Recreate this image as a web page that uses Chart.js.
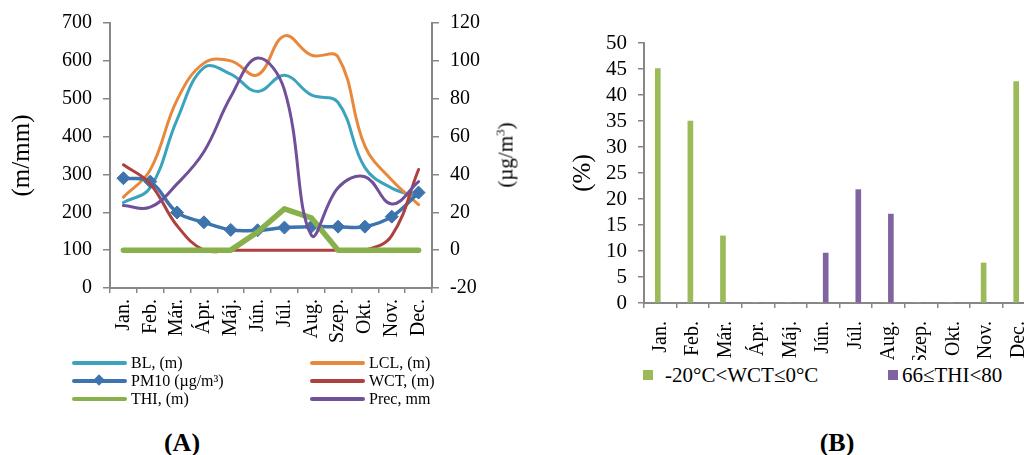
<!DOCTYPE html>
<html>
<head>
<meta charset="utf-8">
<script src="https://cdn.jsdelivr.net/npm/chart.js@4/dist/chart.umd.min.js"></script>
<style>
  html, body { margin: 0; padding: 0; overflow: hidden; background: #fff; }
  body { width: 1024px; height: 455px; position: relative; font-family: 'Liberation Serif', serif; color: #000; }
  .box { position: absolute; }
  .txt { position: absolute; white-space: nowrap; line-height: 1; font-family: 'Liberation Serif', serif; }
  .leg { position: absolute; height: 18px; display: flex; align-items: center; font-size: 16px; white-space: nowrap; }
  .leg .ln { display: inline-block; width: 55px; height: 4px; border-radius: 2px; margin-right: 4px; position: relative; }
  .leg .dm { position: absolute; left: 23px; top: -3px; width: 8px; height: 8px; transform: rotate(45deg); }
  .legB { position: absolute; display: flex; align-items: center; font-size: 21px; white-space: nowrap; }
  .legB .sq { display: inline-block; width: 10px; height: 10px; }
  .lbl { position: absolute; font-weight: bold; font-size: 26px; transform: translate(-50%, -50%); }
</style>
</head>
<body>

<div class="box" style="left:0; top:0; width:540px; height:360px;"><canvas id="chartA"></canvas></div>
<div class="box" style="left:560px; top:0; width:500px; height:360px;"><canvas id="chartB"></canvas></div>

<div class="txt" style="left:505px; top:155px; font-size:21px; transform: translate(-50%, -50%) rotate(-90deg);">(µg/m<sup style="font-size:13px;">3</sup>)</div>

<div id="legendA"></div>
<div id="legendB"></div>

<div class="lbl" style="left:182px; top:443px;">(A)</div>
<div class="lbl" style="left:837px; top:443px;">(B)</div>

<script>
// 1. DATA
const months = ['Jan.', 'Feb.', 'Már.', 'Ápr.', 'Máj.', 'Jún.', 'Júl.', 'Aug.', 'Szep.', 'Okt.', 'Nov.', 'Dec.'];

// chart A, left axis (m)
const blValues  = [226, 265, 445, 582, 565, 519, 562, 510, 490, 318, 264, 241];
const lclValues = [240, 312, 497, 594, 600, 563, 666, 615, 610, 375, 285, 220];
// chart A, right axis
const pm10Values = [38, 36.2, 19.9, 14.7, 10.7, 10.5, 11.9, 12.4, 12.4, 12.4, 17.7, 30.4];
const wctValues  = [45.1, 35, 12.9, 0, 0, 0, 0, 0, 0, 0, 7.7, 42.6];
const thiValues  = [0, 0, 0, 0, 0, 9.6, 21.8, 17.1, 0, 0, 0, 0];
const precValues = [23.6, 22.7, 35, 52, 81, 101.5, 84.7, 8, 33, 38.8, 24.4, 36.2];

// chart B (%)
const wctPercent = [45.1, 35, 12.9, 0, 0, 0, 0, 0, 0, 0, 7.7, 42.6];
const thiPercent = [0, 0, 0, 0, 0, 9.6, 21.8, 17.1, 0, 0, 0, 0];

const FONT = "'Liberation Serif', serif";
const AXIS = '#878787';

Chart.defaults.font.family = FONT;
Chart.defaults.color = '#000';

function f(size) {
  return { family: FONT, size: size, weight: 'normal' };
}

// 2. CHART A
const seriesA = [
  { label: 'BL, (m)',        data: blValues,   color: '#3BA3BE', axis: 'y',  width: 3, order: 6 },
  { label: 'LCL, (m)',       data: lclValues,  color: '#E9883A', axis: 'y',  width: 3, order: 5 },
  { label: 'PM10 (µg/m³)',   data: pm10Values, color: '#3E74AE', axis: 'y1', width: 3.5, order: 4, marker: true },
  { label: 'WCT, (m)',       data: wctValues,  color: '#AE403D', axis: 'y1', width: 3, order: 3 },
  { label: 'THI, (m)',       data: thiValues,  color: '#88B04B', axis: 'y1', width: 5.5, order: 2, straight: true },
  { label: 'Prec, mm',       data: precValues, color: '#71509A', axis: 'y1', width: 3, order: 1 }
];

new Chart(document.getElementById('chartA'), {
  type: 'line',
  data: {
    labels: months,
    datasets: seriesA.map(s => ({
      label: s.label,
      data: s.data,
      yAxisID: s.axis,
      borderColor: s.color,
      backgroundColor: s.color,
      borderWidth: s.width,
      borderCapStyle: 'round',
      borderJoinStyle: 'round',
      tension: s.straight ? 0 : 0.4,
      pointStyle: 'rectRot',
      pointRadius: s.marker ? 6.5 : 0,
      pointBorderWidth: 1,
      order: s.order,
      fill: false
    }))
  },
  options: {
    responsive: true,
    maintainAspectRatio: false,
    animation: false,
    layout: { padding: { top: 23, left: 0, right: 0, bottom: 0 } },
    plugins: { legend: { display: false }, tooltip: { enabled: false } },
    scales: {
      x: {
        offset: true,
        grid: { offset: true, drawOnChartArea: false, color: AXIS, tickLength: 5, lineWidth: 1.5 },
        border: { color: AXIS, width: 2 },
        ticks: { autoSkip: false, minRotation: 90, maxRotation: 90, padding: 6, font: f(20) },
        afterFit(scale) { scale.height = 72; }
      },
      y: {
        position: 'left',
        min: 0, max: 700,
        ticks: { stepSize: 100, autoSkip: false, padding: 11, font: f(20) },
        grid: { drawOnChartArea: false, color: AXIS, tickLength: 7, lineWidth: 1.5 },
        border: { color: AXIS, width: 2 },
        title: { display: true, text: '(m/mm)', font: f(25), padding: { top: 7, bottom: 0 } },
        afterFit(scale) { scale.width = 110; }
      },
      y1: {
        position: 'right',
        min: -20, max: 120,
        ticks: { stepSize: 20, autoSkip: false, padding: 11, font: f(20) },
        grid: { drawOnChartArea: false, color: AXIS, tickLength: 7, lineWidth: 1.5 },
        border: { color: AXIS, width: 2 },
        afterFit(scale) { scale.width = 108; }
      }
    }
  }
});

// 3. CHART B
new Chart(document.getElementById('chartB'), {
  type: 'bar',
  data: {
    labels: months,
    datasets: [
      { label: '-20°C<WCT≤0°C', data: wctPercent, backgroundColor: '#9BBB59', barThickness: 5 },
      { label: '66≤THI<80',     data: thiPercent, backgroundColor: '#8064A2', barThickness: 5 }
    ]
  },
  options: {
    responsive: true,
    maintainAspectRatio: false,
    animation: false,
    layout: { padding: { top: 43, left: 0, right: 25, bottom: 0 } },
    plugins: { legend: { display: false }, tooltip: { enabled: false } },
    scales: {
      x: {
        grid: { offset: true, drawOnChartArea: false, color: AXIS, tickLength: 5, lineWidth: 1.5 },
        border: { color: AXIS, width: 2 },
        ticks: { autoSkip: false, minRotation: 90, maxRotation: 90, padding: 13, font: f(20) },
        afterFit(scale) { scale.height = 57; }
      },
      y: {
        min: 0, max: 50,
        ticks: { stepSize: 5, autoSkip: false, padding: 11, font: f(21) },
        grid: { drawOnChartArea: false, color: AXIS, tickLength: 6, lineWidth: 1.5 },
        border: { color: AXIS, width: 2 },
        title: { display: true, text: '(%)', font: f(25), padding: { top: 8, bottom: 0 } },
        afterFit(scale) { scale.width = 84; }
      }
    }
  }
});

// 4. LEGENDS (HTML)
function buildLegendA() {
  const host = document.getElementById('legendA');
  const cols = [72, 310];
  const rows = [363, 381, 399];
  seriesA.forEach((s, i) => {
    const el = document.createElement('div');
    el.className = 'leg';
    el.style.left = cols[i % 2] + 'px';
    el.style.top = (rows[Math.floor(i / 2)] - 9) + 'px';
    const ln = document.createElement('span');
    ln.className = 'ln';
    ln.style.background = s.color;
    if (s.marker) {
      const dm = document.createElement('span');
      dm.className = 'dm';
      dm.style.background = s.color;
      ln.appendChild(dm);
    }
    el.appendChild(ln);
    el.appendChild(document.createTextNode(s.label));
    host.appendChild(el);
  });
}

function buildLegendB() {
  const host = document.getElementById('legendB');
  const items = [
    { text: '-20°C<WCT≤0°C', color: '#9BBB59', x: 643, gap: 12 },
    { text: '66≤THI<80',     color: '#8064A2', x: 888, gap: 4 }
  ];
  items.forEach(it => {
    const el = document.createElement('div');
    el.className = 'legB';
    el.style.left = it.x + 'px';
    el.style.top = '362px';
    el.style.height = '26px';
    const sq = document.createElement('span');
    sq.className = 'sq';
    sq.style.background = it.color;
    sq.style.marginRight = it.gap + 'px';
    el.appendChild(sq);
    el.appendChild(document.createTextNode(it.text));
    host.appendChild(el);
  });
}

buildLegendA();
buildLegendB();
</script>
</body>
</html>
